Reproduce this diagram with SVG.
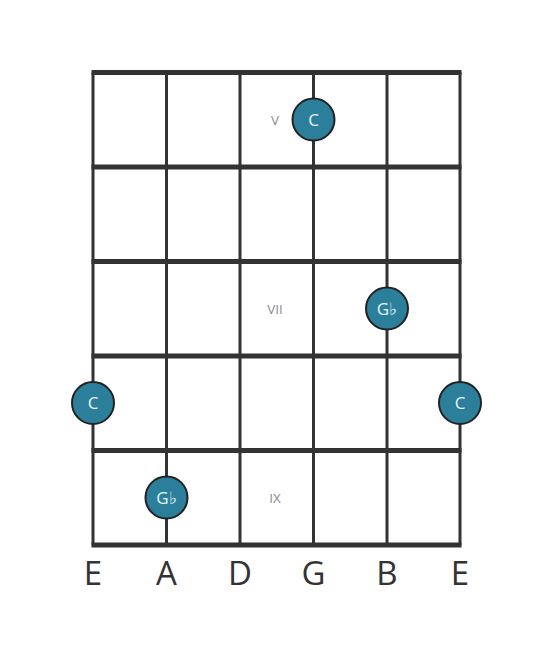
<svg xmlns="http://www.w3.org/2000/svg" width="553" height="656" viewBox="0 0 553 656">
<style>
.fret{stroke:#333;stroke-width:5;}
.str{stroke:#333;stroke-width:3;}
.dot{fill:#2b7f9b;stroke:#222;stroke-width:2;}
.nt{fill:#e4f5fa;font-family:"Open Sans",sans-serif;font-size:17px;text-anchor:middle;}
.pos{fill:#8a8a8a;font-family:"Open Sans",sans-serif;font-size:13.5px;text-anchor:middle;}
.sl{fill:#333;font-family:"Open Sans",sans-serif;font-size:33px;text-anchor:middle;}
</style>
<rect width="553" height="656" fill="#fff"/>
<g id="connectors">
<line class="str" x1="93" y1="72.5" x2="93" y2="545"/>
<line class="str" x1="166.5" y1="72.5" x2="166.5" y2="545"/>
<line class="str" x1="240" y1="72.5" x2="240" y2="545"/>
<line class="str" x1="313.5" y1="72.5" x2="313.5" y2="545"/>
<line class="str" x1="387" y1="72.5" x2="387" y2="545"/>
<line class="str" x1="460" y1="72.5" x2="460" y2="545"/>
<line class="fret" x1="91.5" y1="72.5" x2="461.5" y2="72.5"/>
<line class="fret" x1="91.5" y1="167" x2="461.5" y2="167"/>
<line class="fret" x1="91.5" y1="261.5" x2="461.5" y2="261.5"/>
<line class="fret" x1="91.5" y1="356" x2="461.5" y2="356"/>
<line class="fret" x1="91.5" y1="450.5" x2="461.5" y2="450.5"/>
<line class="fret" x1="91.5" y1="545" x2="461.5" y2="545"/>
</g>
<g id="pos-v"><text class="pos" x="275" y="125">V</text></g>
<g id="pos-vii"><text class="pos" x="275" y="314">VII</text></g>
<g id="pos-ix"><text class="pos" x="275" y="502.5">IX</text></g>
<g id="n1"><circle class="dot" cx="313.5" cy="119.5" r="21"/><text class="nt" x="313.5" y="125.5">C</text></g>
<g id="n2"><circle class="dot" cx="387" cy="308.5" r="21"/><text class="nt" x="387" y="314.5">G♭</text></g>
<g id="n3"><circle class="dot" cx="93" cy="403" r="21"/><text class="nt" x="93" y="409">C</text></g>
<g id="n4"><circle class="dot" cx="460" cy="403" r="21"/><text class="nt" x="460" y="409">C</text></g>
<g id="n5"><circle class="dot" cx="166.5" cy="497.5" r="21"/><text class="nt" x="166.5" y="503.5">G♭</text></g>
<g id="labels">
<text class="sl" x="93" y="585">E</text>
<text class="sl" x="166.5" y="585">A</text>
<text class="sl" x="240" y="585">D</text>
<text class="sl" x="313.5" y="585">G</text>
<text class="sl" x="387" y="585">B</text>
<text class="sl" x="460" y="585">E</text>
</g>
</svg>
